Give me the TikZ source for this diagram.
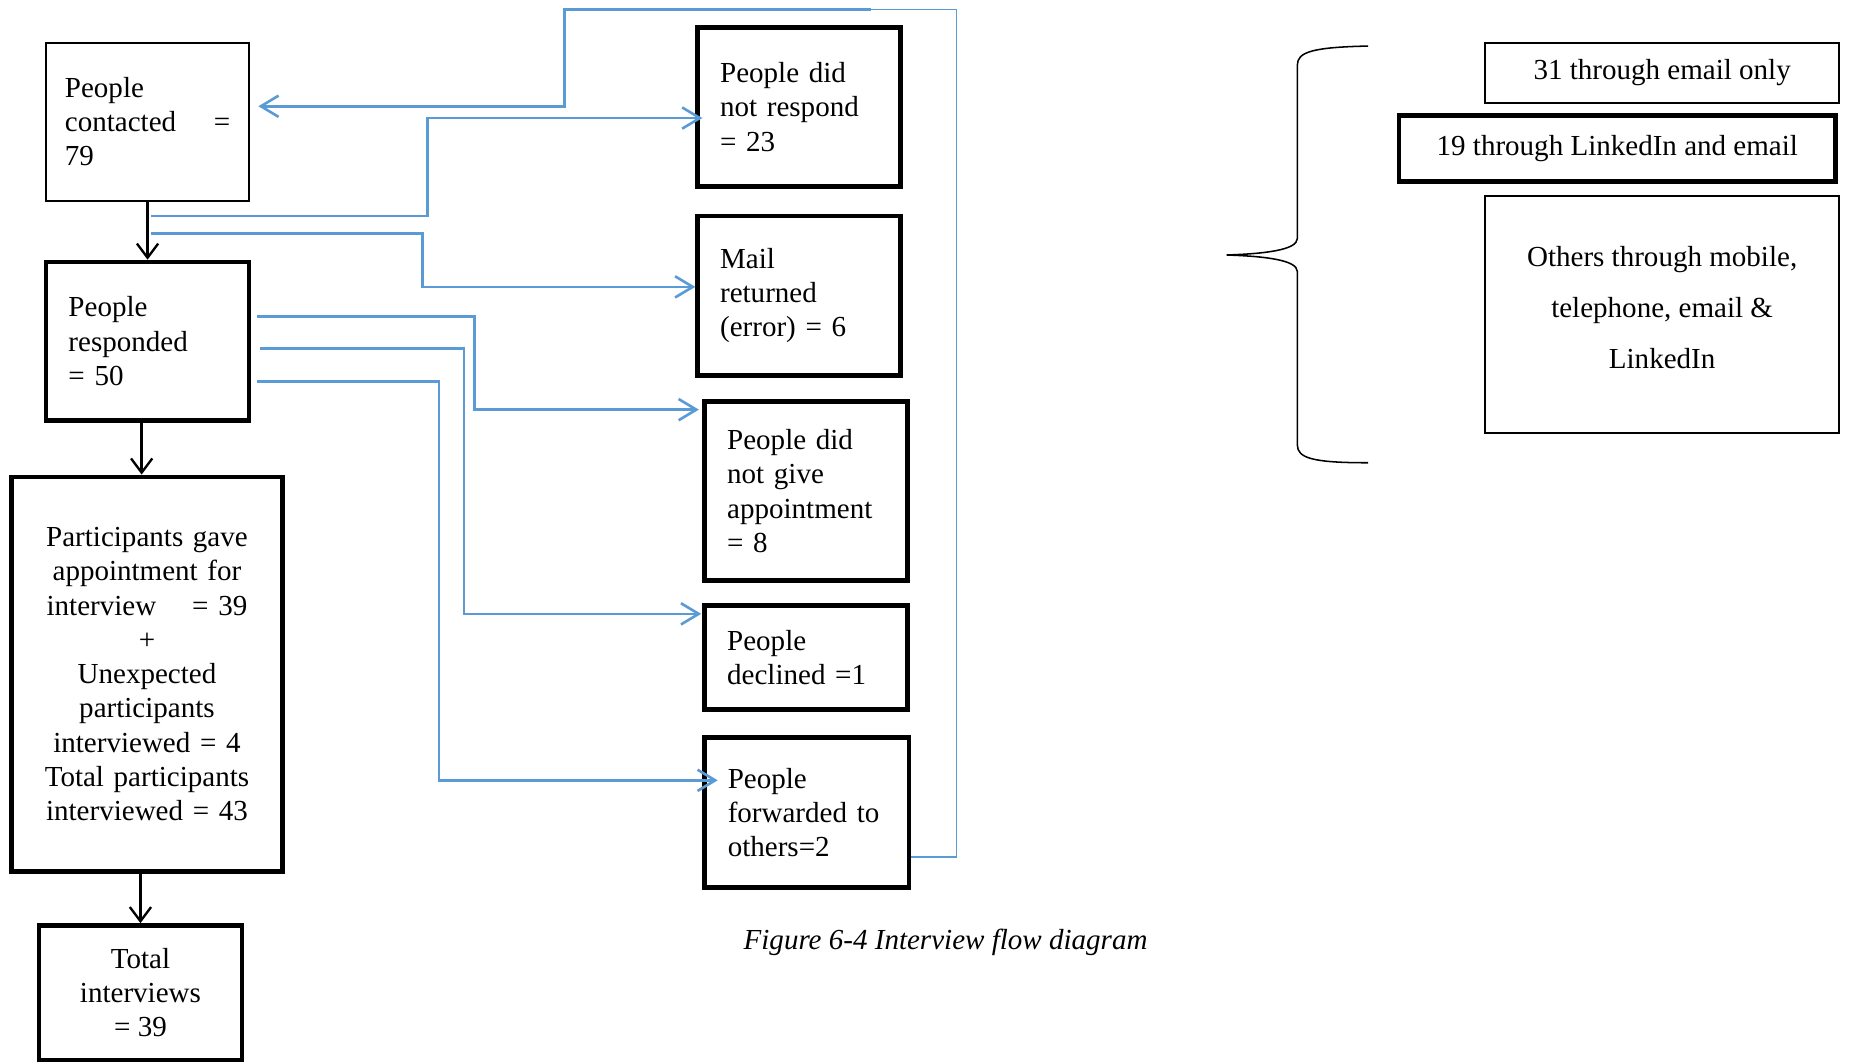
\documentclass[tikz,border=0pt]{standalone}
\usepackage{fontspec}
\setmainfont{Liberation Serif}
\usetikzlibrary{arrows.meta,calc}
\definecolor{flowblue}{RGB}{91,155,213}
\begin{document}
\begin{tikzpicture}[x=0.5pt,y=-0.5pt,
  every node/.style={font=\fontsize{12.3}{14.5}\selectfont, inner sep=0pt},
  box/.style={draw=black, line width=0.85pt},
  heavybox/.style={draw=black, line width=2pt},
  lefttext/.style={align=left, text width=67pt},
  flow/.style={draw=flowblue, line width=1.1pt, -{Straight Barb[length=7.5pt,width=9pt]}},
  flowthin/.style={draw=flowblue, line width=0.5pt},
  down/.style={draw=black, line width=1pt, -{Straight Barb[length=6pt,width=9pt]}}
]
\fill[white] (0,0) rectangle (1568,901);
\useasboundingbox (0,0) rectangle (1568,901);

% main chain on the left
\node[box, minimum width=86pt, minimum height=67pt, align=left, text width=70pt] (A) at (125,103)
  {People\\\makebox[70pt][l]{contacted\hfill=}\\79};
\node[heavybox, minimum width=86pt, minimum height=67pt, lefttext] (B) at (125,289)
  {People\\responded\\= 50};
\node[heavybox, minimum width=114.5pt, minimum height=167pt, align=center, text width=95pt] (C) at (124.5,571)
  {Participants gave\\appointment for\\\makebox[85pt]{interview\hfill= 39}\\+\\Unexpected\\participants\\interviewed = 4\\Total participants\\interviewed = 43};
\node[heavybox, minimum width=86pt, minimum height=57pt, align=center] (D) at (119,841)
  {Total\\interviews\\= 39};

% outcome boxes in the middle
\node[heavybox, minimum width=86pt, minimum height=67.5pt, lefttext] (E) at (677,90.5)
  {People did\\not respond\\= 23};
\node[heavybox, minimum width=86pt, minimum height=67.5pt, lefttext] (F) at (677,250.5)
  {Mail\\returned\\(error) = 6};
\node[heavybox, minimum width=86pt, minimum height=76pt, lefttext] (G) at (683,416)
  {People did\\not give\\appointment\\= 8};
\node[heavybox, minimum width=86pt, minimum height=44pt, lefttext] (H) at (683,557)
  {People\\declined =1};
\node[heavybox, minimum width=86.5pt, minimum height=63.5pt, lefttext] (I) at (683.5,688.5)
  {People\\forwarded to\\others=2};

\node (cap) at (801,798) {\itshape Figure 6-4 Interview flow diagram};

% contact channels on the right
\node[box, minimum width=150pt, minimum height=25.5pt] (J) at (1408,61.5) {31 through email only};
\node[heavybox, minimum width=185pt, minimum height=28pt] (K) at (1370,126) {19 through LinkedIn and email};
\node[box, minimum width=150pt, minimum height=100.5pt] (L) at (1408,266.5) {};
\node[align=center, font=\fontsize{12.3}{21.5}\selectfont, yshift=3pt] (Ltext) at (L)
  {Others through mobile,\\telephone, email \&\\LinkedIn};

% curly brace grouping the channels
\draw[line width=0.65pt] (1159,39) .. controls (1112,40) and (1099,44) .. (1099,55)
  -- (1099,202) .. controls (1099,212) and (1070,215) .. (1039,216)
  .. controls (1070,217) and (1099,220) .. (1099,230)
  -- (1099,377) .. controls (1099,388) and (1112,392) .. (1159,392);

% black flow arrows
\draw[down] (A.south) -- (B.north);
\draw[down] ($(B.south)+(-5,0)$) -- ($(C.north)+(-4.5,0)$);
\draw[down] (C.south -| D.north) -- (D.north);

% blue connectors
\coordinate (s2) at (128,183);
\coordinate (s3) at (128,198);
\coordinate (topR) at (810,8);
\coordinate (topM) at (738,8);
\coordinate (topL) at (478,8);

\draw[flowthin] ($(I.east)+(0,37.5)$) -| (topR) -- (topM);
\draw[flow] (topM) -- (topL) |- ($(A.east)+(7,-13)$);
\draw[flow] (s2) -- (362,183) |- ($(E.west)+(6,9.5)$);
\draw[flow] (s3) -- (358,198) |- ($(F.west)+(0,-7.5)$);
\draw[flow] ($(B.east)+(5,-21)$) -- (402,268) |- ($(G.west)+(-3,-69)$);
\draw[flow] ($(B.east)+(7,6)$) -- (393,295) |- ($(H.west)+(-1,-37)$);
\draw[flow] ($(B.east)+(5,34)$) -- (372,323) |- ($(I.west)+(13,-27.5)$);
\end{tikzpicture}
\end{document}
